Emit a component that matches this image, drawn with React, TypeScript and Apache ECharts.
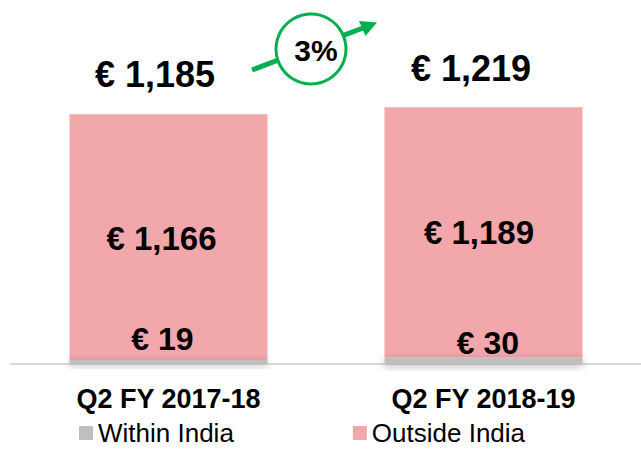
import React, { useEffect, useRef } from "react";
import * as echarts from "echarts";

const categories = ["Q2 FY 2017-18", "Q2 FY 2018-19"];
const withinIndia = [19, 30];
const outsideIndia = [1166, 1189];
const growthLabel = "3%";

const FONT = "'Liberation Sans', Arial, sans-serif";
const fmt = (v: number) => "€ " + v.toLocaleString("en-US");

export default function App() {
  const ref = useRef<HTMLDivElement>(null);
  useEffect(() => {
    if (!ref.current) return;
    const chart = echarts.init(ref.current, null, { renderer: "svg" });
    const totals = withinIndia.map((v, i) => v + outsideIndia[i]);
    const green = "#00b050";
    chart.setOption({
      animation: false,
      backgroundColor: "#ffffff",
      grid: { left: 11, right: -5, top: 48, bottom: 85 },
      legend: {
        left: 79,
        top: 420,
        padding: 0,
        icon: "rect",
        itemWidth: 14,
        itemHeight: 14,
        itemGap: 119,
        data: ["Within India", "Outside India"],
        textStyle: { fontSize: 26, color: "#000", fontFamily: FONT, lineHeight: 26 },
      },
      xAxis: {
        type: "category",
        data: categories,
        axisTick: { show: false },
        axisLine: { lineStyle: { color: "#d9d9d9", width: 2 } },
        axisLabel: {
          fontSize: 27,
          fontWeight: "bold",
          color: "#000",
          fontFamily: FONT,
          margin: 21,
        },
      },
      yAxis: {
        type: "value",
        min: 0,
        max: 1500,
        show: false,
        splitLine: { show: false },
      },
      series: [
        {
          name: "Within India",
          type: "bar",
          stack: "total",
          barWidth: 198,
          z: 3,
          itemStyle: {
            color: "#bfbfbf",
            shadowColor: "rgba(0,0,0,0.3)",
            shadowBlur: 8,
            shadowOffsetY: 2,
          },
          data: withinIndia.map((v, i) => ({
            value: v,
            label: { offset: i === 0 ? [-6, 0] : [4.5, 6] },
          })),
          label: {
            show: true,
            position: "top",
            formatter: (p: any) => fmt(p.value),
            fontSize: 32,
            fontWeight: "bold",
            color: "#000",
            fontFamily: FONT,
          },
        },
        {
          name: "Outside India",
          type: "bar",
          stack: "total",
          barWidth: 198,
          itemStyle: { color: "#f2a7ab" },
          data: outsideIndia.map((v, i) => ({
            value: v,
            label: { offset: i === 0 ? [-7, 1] : [-4.5, 0] },
          })),
          label: {
            show: true,
            position: "inside",
            formatter: (p: any) => fmt(p.value),
            fontSize: 33,
            fontWeight: "bold",
            color: "#000",
            fontFamily: FONT,
          },
        },
        {
          name: "Total",
          type: "scatter",
          symbolSize: 0,
          silent: true,
          itemStyle: { opacity: 1 },
          data: totals.map((v, i) => ({
            value: v,
            label: { offset: i === 0 ? [-13.5, -1] : [-12.5, 0] },
          })),
          label: {
            show: true,
            position: "top",
            distance: 21,
            opacity: 1,
            formatter: (p: any) => fmt(p.value),
            fontSize: 36,
            fontWeight: "bold",
            color: "#000",
            fontFamily: FONT,
          },
        },
      ],
      graphic: [
        {
          type: "line",
          shape: { x1: 252, y1: 70, x2: 278, y2: 60.2 },
          style: { stroke: green, lineWidth: 5 },
        },
        {
          type: "line",
          shape: { x1: 344, y1: 35.2, x2: 363, y2: 28 },
          style: { stroke: green, lineWidth: 5 },
        },
        {
          type: "polygon",
          shape: { points: [[377, 22.5], [359, 21], [365.5, 36]] },
          style: { fill: green },
        },
        {
          type: "circle",
          shape: { cx: 311, cy: 49, r: 35 },
          style: { fill: "#fff", stroke: green, lineWidth: 3 },
        },
        {
          type: "text",
          x: 316,
          y: 50,
          style: {
            text: growthLabel,
            fill: "#000",
            font: "bold 30px " + FONT,
            align: "center",
            verticalAlign: "middle",
          },
        },
      ],
    });
    return () => chart.dispose();
  }, []);
  return <div ref={ref} style={{ width: 641, height: 449, position: "absolute", left: 0, top: 0 }} />;
}
